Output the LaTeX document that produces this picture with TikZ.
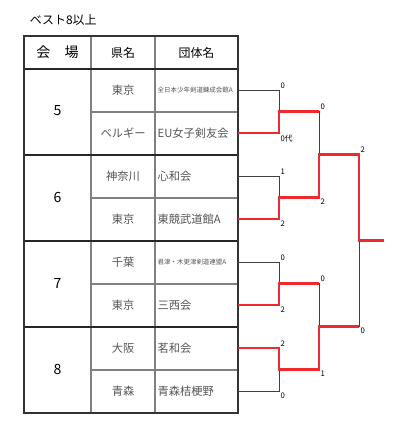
\documentclass[tikz,border=0pt]{standalone}
\usepackage{fontspec}
\setmainfont{Noto Sans CJK JP}
\usepackage{tikz}
\usetikzlibrary{calc}

\definecolor{winred}{HTML}{EE2A2F}
\definecolor{textgray}{HTML}{555555}

\begin{document}
\begin{tikzpicture}[
    x=0.025cm, y=-0.025cm,
    font=\fontsize{8}{9}\selectfont,
    frame/.style={draw=black!80, line width=1.1pt},
    cellline/.style={draw=black!50, line width=0.8pt},
    groupline/.style={draw=black!85, line width=0.9pt},
    head/.style={font=\fontsize{8.5}{9}\selectfont},
    venue/.style={font=\fontsize{10}{11}\selectfont},
    pref/.style={text=textgray},
    team/.style={text=textgray, anchor=west, inner sep=1pt},
    smallteam/.style={team, font=\fontsize{4.6}{5}\selectfont},
    tie/.style={draw=black!75, line width=0.6pt},
    win/.style={draw=winred, line width=1.6pt},
    score/.style={font=\fontsize{5.5}{6}\selectfont, inner sep=1pt}
]
\useasboundingbox (0,0) rectangle (400,439);

% title
\node[anchor=west, font=\fontsize{8.5}{9}\selectfont] (title) at (25,20) {ベスト8以上};

% table grid
\draw[cellline] (91,36) -- (91,413);
\draw[cellline] (155,36) -- (155,413);
\foreach \y in {112,198,284,370} \draw[cellline] (91,\y) -- (238,\y);
\foreach \y in {69,155,241,327} \draw[groupline] (24,\y) -- (238,\y);
\draw[frame] (24,36) rectangle (238,413);

% header
\node[venue] (hvenue) at (57.5,52.5) {会\quad 場};
\node[head] (hpref) at (123,52.5) {県名};
\node[head] (hteam) at (196.5,52.5) {団体名};

% venues
\node[venue] (v5) at (57.5,111) {5};
\node[venue] (v6) at (57.5,197) {6};
\node[venue] (v7) at (57.5,283) {7};
\node[venue] (v8) at (57.5,369) {8};

% prefectures
\node[pref] (p1) at (123,90) {東京};
\node[pref] (p2) at (123,133) {ベルギー};
\node[pref] (p3) at (123,176) {神奈川};
\node[pref] (p4) at (123,219) {東京};
\node[pref] (p5) at (123,262) {千葉};
\node[pref] (p6) at (123,305) {東京};
\node[pref] (p7) at (123,348) {大阪};
\node[pref] (p8) at (123,391) {青森};

% teams
\node[smallteam] (n1) at (156,90) {全日本少年剣道錬成会館A};
\node[team] (n2) at (156,133) {EU女子剣友会};
\node[team] (n3) at (156,176) {心和会};
\node[team] (n4) at (156,219) {東競武道館A};
\node[smallteam] (n5) at (156,262) {君津・木更津剣道連盟A};
\node[team] (n6) at (156,305) {三西会};
\node[team] (n7) at (156,348) {茗和会};
\node[team] (n8) at (156,391) {青森桔梗野};

% bracket points
\foreach \i/\y in {1/90,2/133,3/176,4/219,5/262,6/305,7/348,8/391}
    \coordinate (t\i) at (238,\y);
\coordinate (m1) at (279,111.5);
\coordinate (m2) at (279,197.5);
\coordinate (m3) at (279,283.5);
\coordinate (m4) at (279,369.5);
\coordinate (s1) at (319,154.5);
\coordinate (s2) at (319,326.5);
\coordinate (fin) at (359,240.5);
\coordinate (champ) at (384,240.5);

% bracket
\draw[tie] (t1) -| (m1) (t2) -| (m1);
\draw[tie] (t3) -| (m2) (t4) -| (m2);
\draw[tie] (t5) -| (m3) (t6) -| (m3);
\draw[tie] (t7) -| (m4) (t8) -| (m4);
\draw[tie] (m1) -| (s1) (m2) -| (s1);
\draw[tie] (m3) -| (s2) (m4) -| (s2);
\draw[tie] (s1) -| (fin) (s2) -| (fin);

% winners
\draw[win] (t2) -| (m1) -- (m1 -| s1);
\draw[win] (t4) -| (m2) -| (s1) -| (fin) -- (champ);
\draw[win] (t6) -| (m3) -- (m3 -| s2);
\draw[win] (t7) -| (m4) -| (s2) -- (s2 -| fin);

% scores
\node[score, anchor=south west] (sc1) at (t1 -| m1) {0};
\node[score, anchor=north west] (sc2) at (t2 -| m1) {0代};
\node[score, anchor=south west] (sc3) at (t3 -| m2) {1};
\node[score, anchor=north west] (sc4) at (t4 -| m2) {2};
\node[score, anchor=south west] (sc5) at (t5 -| m3) {0};
\node[score, anchor=north west] (sc6) at (t6 -| m3) {2};
\node[score, anchor=south west] (sc7) at (t7 -| m4) {2};
\node[score, anchor=north west] (sc8) at (t8 -| m4) {0};
\node[score, anchor=south west] (sc9) at (m1 -| s1) {0};
\node[score, anchor=north west] (sc10) at (m2 -| s1) {2};
\node[score, anchor=south west] (sc11) at (m3 -| s2) {0};
\node[score, anchor=north west] (sc12) at (m4 -| s2) {1};
\node[score, anchor=south west] (sc13) at (s1 -| fin) {2};
\node[score, anchor=north west] (sc14) at (s2 -| fin) {0};
\end{tikzpicture}
\end{document}
